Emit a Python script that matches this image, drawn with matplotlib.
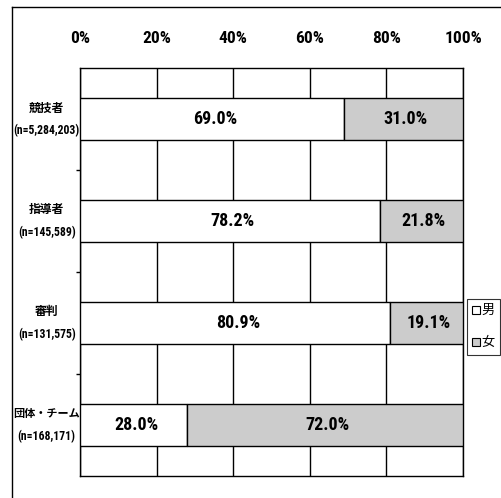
import matplotlib
matplotlib.use("Agg")
import matplotlib.pyplot as plt
from matplotlib.patches import Patch
from matplotlib.lines import Line2D
import numpy as np

categories = ["競技者\n(n=5,284,203)", "指導者\n(n=145,589)", "審判\n(n=131,575)", "団体・チーム\n(n=168,171)"]
male = [69.0, 78.2, 80.9, 28.0]
female = [31.0, 21.8, 19.1, 72.0]
xticks = [0, 20, 40, 60, 80, 100]
xticklabels = ["0%", "20%", "40%", "60%", "80%", "100%"]
series_names = ["男", "女"]

FAM = ["Roboto Condensed", "Noto Sans CJK JP", "DejaVu Sans"]
CJK = ["Noto Sans CJK JP", "DejaVu Sans"]
plt.rcParams['font.family'] = FAM

W, H = 501, 498
fig = plt.figure(figsize=(W / 100, H / 100), dpi=100)
fig.patch.set_facecolor("white")

# outer frame (top and left lines)
fig.add_artist(Line2D([12 / W, 1.0], [1 - 7 / H, 1 - 7 / H], color="black", lw=1.0, transform=fig.transFigure))
fig.add_artist(Line2D([12 / W, 12 / W], [1 - 7 / H, 0.0], color="black", lw=1.0, transform=fig.transFigure))

left, right, top, bottom = 80, 463, 68, 476
ax = fig.add_axes([left / W, 1 - bottom / H, (right - left) / W, (bottom - top) / H])

n = len(categories)
y = np.arange(n)
bh = 0.41
ax.barh(y, male, height=bh, color="white", edgecolor="black", linewidth=1.0, zorder=3)
ax.barh(y, female, left=male, height=bh, color="#cccccc", edgecolor="black", linewidth=1.0, zorder=3)

for i in range(n):
    ax.annotate(f"{male[i]:.1f}%", xy=(male[i] / 2, y[i]), xytext=(2, 0), textcoords="offset points",
                ha="center", va="center", fontsize=13, fontweight="bold", family=FAM, zorder=4)
    ax.annotate(f"{female[i]:.1f}%", xy=(male[i] + female[i] / 2, y[i]), xytext=(1.5, 0), textcoords="offset points",
                ha="center", va="center", fontsize=13, fontweight="bold", family=FAM, zorder=4)

ax.set_xlim(0, 100)
ax.set_ylim(n - 0.5, -0.5)
ax.set_xticks(xticks)
ax.set_xticklabels(xticklabels, fontsize=12.5, fontweight="bold")
ax.xaxis.tick_top()
ax.tick_params(axis="x", length=0, pad=16)
ax.grid(axis="x", color="black", linewidth=1.0, zorder=1)

ax.set_yticks(y)
ax.set_yticklabels([])
ax.tick_params(axis="y", length=0)
ax.set_yticks(np.arange(n - 1) + 0.5, minor=True)
ax.tick_params(axis="y", which="minor", length=3, width=1.0, direction="out")

for i, c in enumerate(categories):
    name, cnt = c.split("\n")
    fs = 8.5 if len(name) <= 3 else 8
    ax.annotate(name, xy=(0, y[i]), xycoords=("axes fraction", "data"),
                xytext=(-24, 8), textcoords="offset points", ha="center", va="center",
                fontsize=fs, fontweight="bold", family=CJK)
    ax.annotate(cnt, xy=(0, y[i]), xycoords=("axes fraction", "data"),
                xytext=(-24, -8.5), textcoords="offset points", ha="center", va="center",
                fontsize=8.5, fontweight="bold", family=FAM)

for s in ax.spines.values():
    s.set_linewidth(1.0)
    s.set_color("black")

handles = [Patch(facecolor="white", edgecolor="black", linewidth=0.8),
           Patch(facecolor="#cccccc", edgecolor="black", linewidth=0.8)]
leg = fig.legend(handles, series_names, loc="upper left",
                 bbox_to_anchor=(467 / W, 1 - 299 / H), bbox_transform=fig.transFigure,
                 prop={"family": CJK, "size": 9.5},
                 handlelength=0.55, handleheight=0.55, handletextpad=0.12,
                 borderpad=0.4, labelspacing=1.45, borderaxespad=0,
                 frameon=True, fancybox=False, edgecolor="black")
leg.get_frame().set_linewidth(0.8)

fig.savefig("out.png", dpi=100, facecolor="white")
